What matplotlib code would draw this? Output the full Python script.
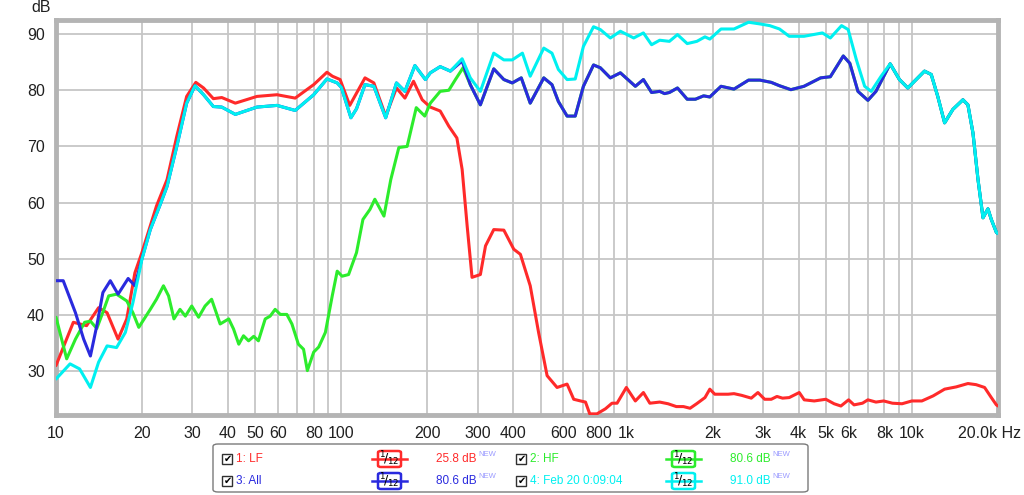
import matplotlib.pyplot as plt
from matplotlib.patches import FancyBboxPatch, Rectangle
from matplotlib.lines import Line2D
from matplotlib.ticker import NullLocator

plt.rcParams['font.family'] = ['Liberation Sans', 'DejaVu Sans']

# --- curves (Hz, dB)
lf_freq = [10, 11.5, 12.8, 14.1, 15.1, 16.5, 17.7, 18.9, 20, 22.5, 24.5, 26.5, 28.7, 30.9, 32.9,
           35.6, 38.1, 42.5, 50.6, 59.5, 68.9, 80, 89, 93, 99, 107, 121, 130, 143, 156, 167, 179,
           192, 205, 222, 238, 254, 265, 276, 287, 307, 320, 342, 371, 402, 424, 459, 491, 526,
           570, 618, 652, 689, 717, 742, 786, 842, 888, 925, 997, 1072, 1144, 1205, 1305, 1396,
           1492, 1580, 1667, 1757, 1880, 1955, 2035, 2266, 2376, 2527, 2732, 2882, 3043, 3210,
           3360, 3515, 3710, 4024, 4188, 4540, 4986, 5330, 5630, 5990, 6260, 6700, 7000, 7470,
           7950, 8530, 9220, 9980, 10820, 11850, 13000, 14270, 15690, 16760, 17950, 18950,
           19740, 20000]
lf_db = [31.0, 38.7, 38.1, 41.3, 40.4, 35.7, 39.3, 47.5, 51.1, 59.4, 64.1, 71.8, 78.9, 81.4, 80.4,
         78.5, 78.7, 77.7, 78.9, 79.2, 78.6, 81.0, 83.2, 82.5, 81.9, 77.3, 82.2, 81.3, 75.4, 80.4,
         78.6, 81.6, 78.3, 77.0, 76.3, 73.6, 71.5, 65.9, 55.8, 46.7, 47.2, 52.3, 55.2, 55.1, 51.7,
         50.8, 45.2, 36.9, 29.2, 27.1, 27.7, 25.0, 24.7, 24.5, 22.4, 22.4, 23.3, 24.3, 24.3, 27.1,
         24.7, 26.2, 24.3, 24.5, 24.2, 23.7, 23.7, 23.4, 24.2, 25.3, 26.8, 25.9, 25.9, 26.0, 25.7,
         25.2, 26.2, 25.0, 25.0, 25.5, 25.2, 25.3, 26.2, 24.9, 24.7, 25.0, 24.2, 23.8, 24.9, 24.0,
         24.3, 24.9, 24.5, 24.7, 24.3, 24.2, 24.7, 24.7, 25.6, 26.8, 27.2, 27.8, 27.6, 27.1, 25.3,
         24.0, 23.8]

feb_freq = [10, 11.2, 12.1, 13.2, 14.1, 15.1, 16.3, 17.5, 18.6, 20, 21.4, 23.2, 24.5, 26.5, 28.7,
            30.7, 32.9, 35.6, 38.1, 42.5, 50.6, 59.5, 68.9, 80, 89, 96.7, 100, 108, 113, 121, 130,
            143, 156, 167, 181, 197, 205, 222, 241, 265, 283, 307, 342, 371, 397, 431, 459, 512,
            547, 576, 618, 660, 705, 765, 808, 876, 950, 1058, 1144, 1222, 1305, 1411, 1506, 1629,
            1761, 1880, 1955, 2140, 2376, 2672, 2930, 3170, 3430, 3710, 4180, 4850, 5170, 5660,
            5970, 6380, 6820, 7190, 7790, 8380, 9030, 9660, 10330, 11050, 11670, 12300, 13000,
            13900, 15070, 15690, 16340, 17020, 17720, 18440, 18950, 19740, 20000]
feb_db = [28.6, 31.3, 30.4, 27.1, 31.6, 34.5, 34.2, 36.9, 42.2, 49.9, 55.2, 59.7, 62.9, 70.0, 77.7,
          80.8, 79.2, 77.1, 77.0, 75.7, 77.0, 77.3, 76.4, 79.2, 82.0, 81.3, 80.5, 75.1, 76.7, 81.0,
          80.7, 75.1, 81.3, 79.8, 84.4, 81.9, 83.1, 84.2, 83.4, 85.6, 82.2, 79.8, 86.6, 85.4, 85.4,
          86.6, 82.5, 87.5, 86.6, 83.7, 81.9, 82.0, 87.8, 91.3, 90.8, 89.3, 90.5, 89.3, 90.2, 88.1,
          88.9, 88.7, 89.9, 88.3, 88.7, 89.5, 89.1, 90.9, 90.9, 92.1, 91.8, 91.5, 90.9, 89.6, 89.6,
          90.2, 89.3, 91.5, 90.8, 85.4, 80.7, 79.8, 82.5, 84.7, 81.9, 80.4, 81.9, 83.4, 82.8, 78.9,
          74.2, 76.6, 78.3, 77.4, 72.4, 64.1, 57.3, 58.9, 57.0, 54.7, 54.5]

all_freq = [10, 10.6, 11.7, 12.5, 13.2, 13.9, 14.6, 15.5, 16.5, 17.9, 18.9, 20, 21.4, 23.2, 24.5,
            26.5, 28.7, 30.7, 32.9, 35.6, 38.1, 42.5, 50.6, 59.5, 68.9, 80, 89, 96.7, 100, 108,
            113, 121, 130, 143, 156, 167, 181, 197, 205, 222, 241, 265, 283, 307, 342, 371, 397,
            427, 459, 512, 547, 576, 618, 660, 705, 765, 808, 876, 950, 1072, 1144, 1222, 1305,
            1357, 1411, 1506, 1629, 1740, 1860, 1955, 2140, 2376, 2672, 2930, 3210, 3430, 3760,
            4180, 4780, 5170, 5740, 6050, 6460, 7000, 7470, 8380, 9030, 9660, 10330, 11050, 11670,
            12300, 13000, 13900, 15070, 15690, 16340, 17020, 17720, 18440, 18950, 19740, 20000]
all_db = [46.1, 46.1, 40.4, 35.7, 32.7, 38.1, 44.0, 46.1, 43.7, 46.5, 45.2, 50.0, 55.2, 59.7, 62.9,
          70.0, 77.7, 80.8, 79.2, 77.1, 77.0, 75.7, 77.0, 77.3, 76.4, 79.2, 82.0, 81.3, 80.5, 75.1,
          76.7, 81.0, 80.7, 75.1, 81.3, 79.8, 84.4, 81.9, 83.1, 84.2, 83.4, 85.2, 81.0, 77.4, 83.8,
          81.9, 81.3, 82.2, 77.7, 82.2, 81.0, 78.0, 75.4, 75.4, 80.7, 84.5, 84.0, 82.2, 83.1, 80.7,
          81.9, 79.6, 79.8, 79.4, 79.6, 80.4, 78.4, 78.4, 79.0, 78.8, 80.7, 80.2, 81.8, 81.8, 81.4,
          80.8, 80.1, 80.7, 82.2, 82.4, 86.1, 84.8, 79.8, 78.2, 79.8, 84.7, 81.9, 80.4, 81.9, 83.4,
          82.8, 78.9, 74.2, 76.6, 78.3, 77.4, 72.4, 64.1, 57.3, 58.9, 57.0, 54.7, 54.5]

# HF follows the summed response above ~280 Hz
hf_low_freq = [10, 10.9, 11.7, 12.6, 13.2, 13.9, 14.6, 15.3, 16.3, 17.7, 18.6, 19.5, 21.4, 22.5,
               23.8, 24.8, 25.9, 27.2, 28.4, 29.9, 31.6, 33.3, 35.1, 37.6, 40.3, 41.9, 43.7, 45.4,
               47.3, 49.3, 51.2, 54.1, 56.3, 58.6, 61.1, 64.4, 67.1, 70.7, 73.7, 76.0, 80.0, 83.3,
               87.9, 92.9, 96.7, 100.6, 106, 113, 119, 126, 131, 141, 149, 159, 170, 183, 196,
               205, 222, 238, 251, 267]
hf_low_db = [39.6, 32.2, 35.7, 38.7, 38.9, 37.6, 40.5, 43.4, 43.7, 42.5, 40.4, 37.8, 41.0, 42.8,
             45.2, 43.4, 39.3, 41.0, 39.8, 41.6, 39.6, 41.6, 42.8, 38.4, 39.3, 37.5, 34.8, 36.3,
             35.4, 36.2, 35.4, 39.3, 39.8, 41.0, 40.1, 40.1, 38.4, 34.8, 33.9, 30.1, 33.4, 34.3,
             36.9, 43.4, 47.8, 46.9, 47.2, 51.1, 57.0, 58.8, 60.6, 57.6, 64.1, 69.8, 70.0, 76.9,
             75.4, 77.7, 79.8, 80.0, 81.9, 84.0]
k = all_freq.index(283)
hf_freq = hf_low_freq + all_freq[k:]
hf_db = hf_low_db + all_db[k:]

names = ['1: LF', '2: HF', '3: All', '4: Feb 20 0:09:04']
readouts = ['25.8', '80.6', '80.6', '91.0']
colors = ['#ff2a2a', '#2cec2c', '#2a2ade', '#00f0f0']

xt_pos = [m * 10 ** d for d in range(1, 5) for m in range(1, 10) if m * 10 ** d <= 20000]
xt_lab = {10: '10', 20: '20', 30: '30', 40: '40', 50: '50', 60: '60', 80: '80', 100: '100',
          200: '200', 300: '300', 400: '400', 600: '600', 800: '800', 1000: '1k', 2000: '2k',
          3000: '3k', 4000: '4k', 5000: '5k', 6000: '6k', 8000: '8k', 10000: '10k'}

W, H = 1024, 495
fig = plt.figure(figsize=(W / 100, H / 100), dpi=100)
ax = fig.add_axes([56 / W, 1 - 415 / H, (998 - 56) / W, (415 - 20) / H])

series = [(lf_freq, lf_db), (hf_freq, hf_db), (all_freq, all_db), (feb_freq, feb_db)]
for (f, d), c in zip(series, colors):
    ax.plot(f, d, color=c, lw=2.2, solid_joinstyle='round', solid_capstyle='round', zorder=3)

ax.set_xscale('log')
ax.set_xlim(10, 20000)
ax.set_ylim(22.2, 92.5)
ax.set_xticks(xt_pos)
ax.set_xticklabels([xt_lab.get(p, '') for p in xt_pos])
ax.xaxis.set_minor_locator(NullLocator())
ax.set_yticks([30, 40, 50, 60, 70, 80, 90])
ax.tick_params(length=0, labelsize=11.5, colors='#202020')
ax.tick_params(axis='x', pad=8)
ax.tick_params(axis='y', pad=8)
ax.grid(True, color='#c6c6c6', lw=1.3, zorder=1)
for s in ax.spines.values():
    s.set_color('#b4b4b4')
    s.set_linewidth(3.5)

def px(x, y):
    return x / W, 1 - y / H

fig.text(*px(41, 8), 'dB', ha='center', va='center', fontsize=11.5, color='#202020')
fig.text(*px(1021, 434), '20.0k Hz', ha='right', va='center', fontsize=11.5, color='#202020')

# legend panel
fig.patches.append(FancyBboxPatch(px(213, 492), 595 / W, 48 / H,
                                  boxstyle='round,pad=0,rounding_size=0.005',
                                  transform=fig.transFigure, fc='white', ec='#7a7a7a', lw=1))
slots = [(0, 0), (1, 0), (0, 1), (1, 1)]   # (column, row) for LF, HF, All, Feb
col_x = [222, 516]
row_y = [459, 481]
for (ci, ri), name, val, c in zip(slots, names, readouts, colors):
    x0, y0 = col_x[ci], row_y[ri]
    fig.patches.append(Rectangle(px(x0, y0 + 5), 10 / W, 10 / H, transform=fig.transFigure,
                                 fc='white', ec='#303030', lw=1))
    fig.text(*px(x0 + 5.5, y0), '\u2714', ha='center', va='center', fontsize=7,
             color='black', family='DejaVu Sans')
    fig.text(*px(x0 + 14, y0), name, ha='left', va='center', fontsize=8.5, color=c)
    ix = x0 + 156
    fig.lines.append(Line2D([px(ix - 6, 0)[0], px(ix + 29, 0)[0]], [px(0, y0)[1]] * 2,
                            transform=fig.transFigure, color=c, lw=1.8))
    fig.patches.append(FancyBboxPatch(px(ix, y0 + 8), 23 / W, 16 / H,
                                      boxstyle='round,pad=0,rounding_size=0.003',
                                      transform=fig.transFigure, fc='white', ec=c, lw=1.8))
    fig.text(*px(ix + 11.5, y0), r'$^{1}\!/_{12}$', ha='center', va='center', fontsize=9,
             color='black')
    fig.text(*px(x0 + 255, y0), val + ' dB', ha='right', va='center', fontsize=8.5, color=c)
    fig.text(*px(x0 + 256, y0 - 4), 'NEW', ha='left', va='center', fontsize=5.5,
             color='#9a9aff')

fig.savefig('out.png', dpi=100)
